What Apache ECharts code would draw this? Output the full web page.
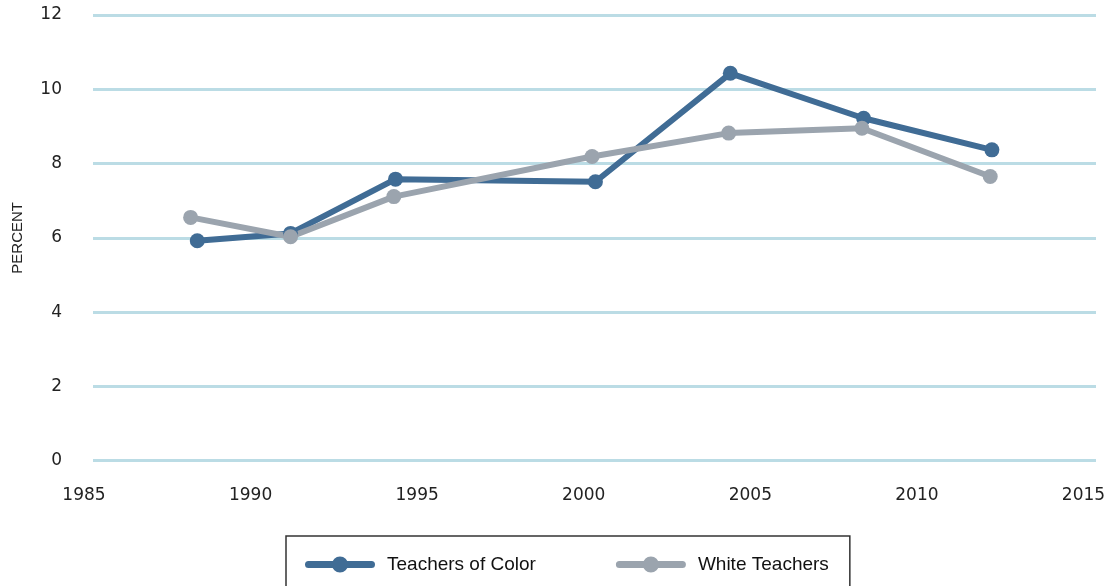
<!DOCTYPE html>
<html>
<head>
<meta charset="utf-8">
<script src="https://cdn.jsdelivr.net/npm/echarts@6/dist/echarts.min.js"></script>
<style>
  html, body { margin: 0; padding: 0; background: #fff; }
  #main { width: 1113px; height: 586px; }
</style>
</head>
<body>
<div id="main"></div>
<script>
// school years are plotted a bit after the calendar year, as in the source
const colorYears = [1988.4, 1991.2, 1994.35, 2000.35, 2004.4, 2008.4, 2012.25];
const colorValues = [5.92, 6.12, 7.58, 7.51, 10.43, 9.22, 8.37];
const whiteYears = [1988.2, 1991.2, 1994.3, 2000.25, 2004.35, 2008.35, 2012.2];
const whiteValues = [6.55, 6.03, 7.11, 8.19, 8.82, 8.95, 7.65];
const seriesNames = ['Teachers of Color', 'White Teachers'];

const pairs = (xs, ys) => xs.map((x, i) => [x, ys[i]]);

// legend key: thick rounded line with a dot in the middle
const legendIcon = 'path://M3.5,4.5 L66.5,4.5 A3.5,3.5 0 0 1 66.5,11.5 L3.5,11.5 A3.5,3.5 0 0 1 3.5,4.5 Z '
    + 'M35,0 A8,8 0 1 1 34.99,0 Z';

const chart = echarts.init(document.getElementById('main'));

const option = {
    animation: false,
    backgroundColor: '#fff',
    grid: [
        // gridlines only (they run past the x labels, like the original)
        {left: 93, right: 17, top: 15, bottom: 125.3},
        // data area
        {left: 84, right: 29.5, top: 15, bottom: 125.3}
    ],
    xAxis: [
        {gridIndex: 0, type: 'value', min: 0, max: 1, show: false},
        {
            gridIndex: 1, type: 'value', min: 1985, max: 2015, interval: 5,
            axisLine: {show: false}, axisTick: {show: false}, splitLine: {show: false},
            axisLabel: {
                margin: 26, color: '#222', fontFamily: 'DejaVu Sans', fontSize: 17,
                formatter: v => String(v)
            }
        }
    ],
    yAxis: [
        {
            gridIndex: 0, type: 'value', min: 0, max: 12, interval: 2,
            axisLine: {show: false}, axisTick: {show: false},
            splitLine: {lineStyle: {color: '#BBDCE5', width: 3}},
            axisLabel: {margin: 31, color: '#222', fontFamily: 'DejaVu Sans', fontSize: 17},
            name: 'PERCENT', nameLocation: 'middle', nameRotate: 90, nameGap: 68,
            nameTextStyle: {color: '#222', fontFamily: 'Liberation Sans', fontSize: 15}
        },
        {gridIndex: 1, type: 'value', min: 0, max: 12, show: false, splitLine: {show: false}}
    ],
    legend: {
        data: seriesNames,
        left: 286, top: 536,
        padding: [19, 21, 19, 19],
        icon: legendIcon,
        itemWidth: 70, itemHeight: 16, itemGap: 80,
        borderColor: '#333', borderWidth: 1.5, borderRadius: 0,
        textStyle: {color: '#111', fontFamily: 'Liberation Sans', fontSize: 19, padding: [0, 0, 0, 7]}
    },
    series: [
        {
            name: seriesNames[0], type: 'line', xAxisIndex: 1, yAxisIndex: 1,
            data: pairs(colorYears, colorValues),
            symbol: 'circle', symbolSize: 15,
            lineStyle: {color: '#406C95', width: 6},
            itemStyle: {color: '#406C95'}
        },
        {
            name: seriesNames[1], type: 'line', xAxisIndex: 1, yAxisIndex: 1,
            data: pairs(whiteYears, whiteValues),
            symbol: 'circle', symbolSize: 15,
            lineStyle: {color: '#9BA4AE', width: 6},
            itemStyle: {color: '#9BA4AE'}
        }
    ]
};

chart.setOption(option);
</script>
</body>
</html>
